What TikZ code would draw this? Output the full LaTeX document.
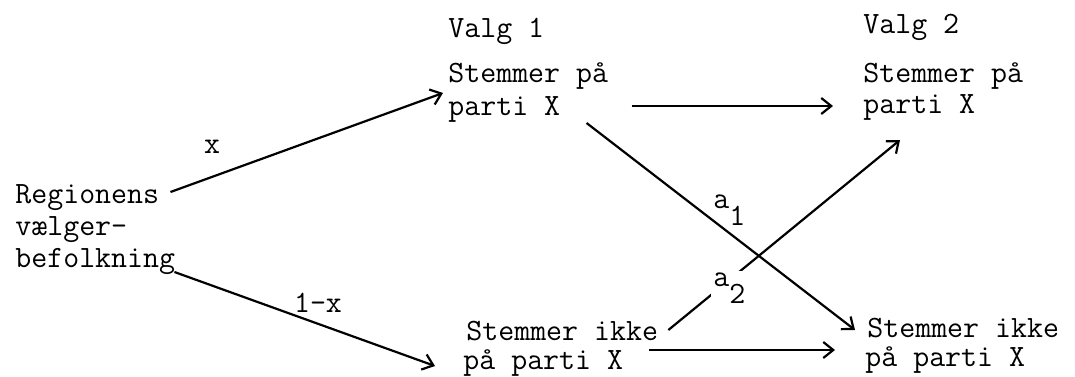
\documentclass[tikz,border=0pt]{standalone}
\usetikzlibrary{arrows.meta,calc}
\begin{document}
\begin{tikzpicture}[x=0.5pt,y=-0.5pt,
  txt/.style={anchor=base west,inner sep=0pt,font=\ttfamily\fontsize{15.5}{16}\selectfont},
  flat/.style={text depth=0pt},
  lab/.style={inner sep=1pt,font=\ttfamily\fontsize{15.5}{16}\selectfont},
  arr/.style={line width=1.1pt,-{Straight Barb[length=5pt,width=8pt,line width=1.1pt]}}]
\useasboundingbox[fill=white] (0,0) rectangle (1075,376);
% texts
\node[txt] (v1) at (448,37) {Valg 1};
\node[txt] (v2) at (863,33) {Valg 2};
\node[txt] (s1a) at (448,82) {Stemmer på};
\node[txt] (s1b) at (448,115) {parti X};
\node[txt] (s2a) at (863,82) {Stemmer på};
\node[txt] (s2b) at (863,113) {parti X};
\node[txt] (reg1) at (15,203) {Regionens};
\node[txt] (reg2) at (15,235) {vælger-};
\node[txt] (reg3) at (15,267) {befolkning};
\node[txt,flat] (n1a) at (466,340) {Stemmer ikke};
\node[txt] (n1b) at (463,369) {på parti X};
\node[txt,flat] (n2a) at (867,337) {Stemmer ikke};
\node[txt] (n2b) at (865,366) {på parti X};
% connectors
\draw[arr] ($(reg1.base east)+(11,-11)$) -- ($(s1b.base west)+(-5,-22)$);
\draw[arr] ($(reg3.base east)+(-1,5)$) -- ($(n1b.base west)+(-28,-3)$);
\draw[arr] ($(s1b.base east)+(71,-9)$) -- ($(s2b.base west)+(-30,-7)$);
\draw[arr] ($(n1b.base east)+(26,-19)$) -- ($(n2b.base west)+(-30,-16)$);
\draw[arr] ($(s1b.base east)+(26,8)$) -- ($(n2a.base west)+(-12,-7)$);
\draw[arr] ($(n1a.base east)+(10,-10)$) -- ($(s2b.base west)+(37,27)$);
% labels
\node[lab] (lx) at (212,147) {x};
\node[lab] (l1x) at (318,303) {1-x};
\node[lab,anchor=west] (la1) at (711,210) {a\raisebox{-0.55em}{1}};
\node[lab,anchor=west,fill=white] (la2) at (711,288) {a\raisebox{-0.55em}{2}};
\end{tikzpicture}
\end{document}
